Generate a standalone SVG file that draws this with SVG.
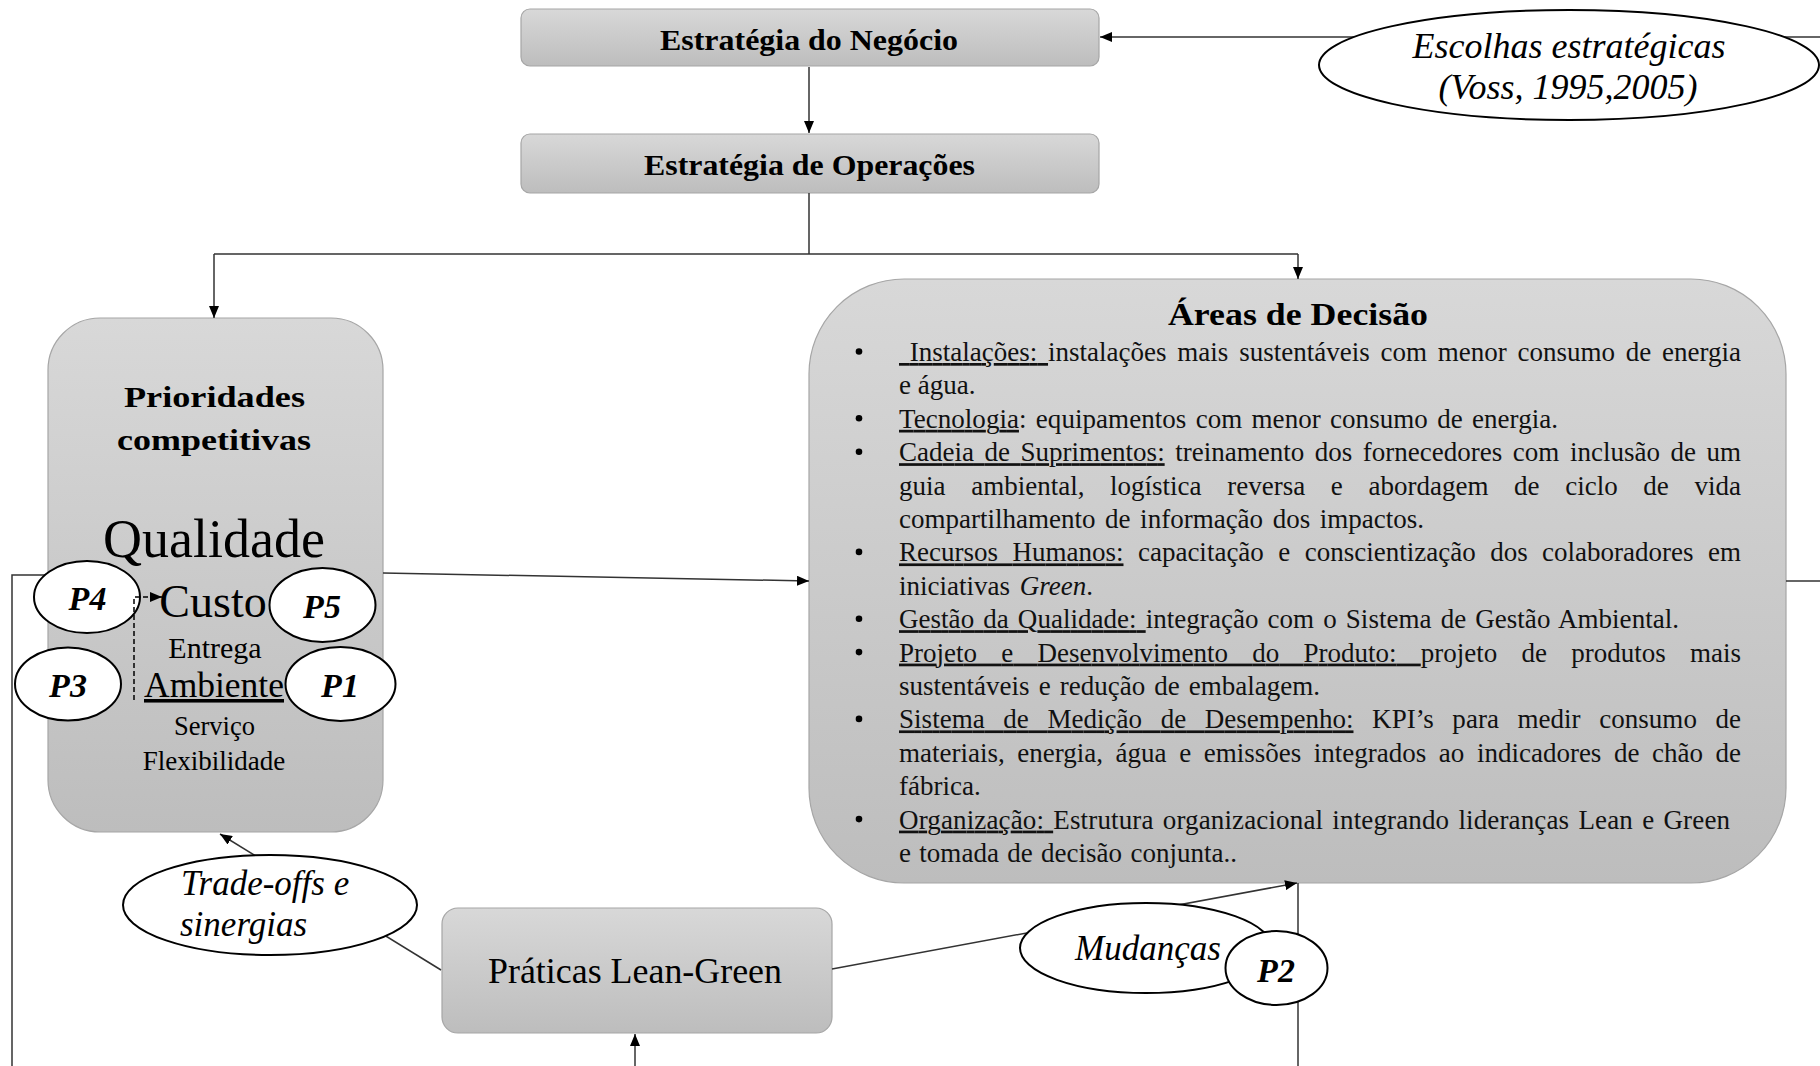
<svg xmlns="http://www.w3.org/2000/svg" width="1820" height="1066" viewBox="0 0 1820 1066">
  <defs>
    <linearGradient id="boxFill" x1="0" y1="0" x2="0" y2="1">
      <stop offset="0" stop-color="#d8d8d8"/>
      <stop offset="1" stop-color="#bdbdbd"/>
    </linearGradient>
    <marker id="arrow" viewBox="0 0 12 10" refX="12" refY="5" markerWidth="12" markerHeight="10" markerUnits="userSpaceOnUse" orient="auto">
      <path d="M0,0 L12,5 L0,10 Z" fill="#000"/>
    </marker>
    <style>
      .box { fill: url(#boxFill); stroke: #a6a6a6; stroke-width: 1.2; }
      .oval { fill: #fff; stroke: #000; stroke-width: 2; }
      .line { fill: none; stroke: #333; stroke-width: 1.5; }
      .dash { fill: none; stroke: #000; stroke-width: 1.5; stroke-dasharray: 5 3; }
      .serif { font-family: "Liberation Serif", "Times New Roman", serif; fill: #000; }
      .title { font-family: "Liberation Serif", "Times New Roman", serif; font-weight: bold; fill: #000; }
      .body { font-family: "Liberation Serif", "Times New Roman", serif; font-size: 27px; fill: #111; }
      .ital { font-family: "Liberation Serif", "Times New Roman", serif; font-style: italic; fill: #000; }
      .plabel { font-family: "Liberation Serif", "Times New Roman", serif; font-style: italic; font-weight: bold; font-size: 34px; text-anchor: middle; fill: #000; }
      .u { text-decoration: underline; }
      .bullet { fill: #000; }
    </style>
  </defs>

  <rect width="1820" height="1066" fill="#fff"/>

  <!-- strategy boxes -->
  <g id="estrategia-negocio">
    <rect class="box" x="521" y="9" width="578" height="57" rx="9"/>
    <text class="title" x="809" y="50" font-size="29" text-anchor="middle" textLength="298" lengthAdjust="spacingAndGlyphs">Estratégia do Negócio</text>
  </g>
  <g id="estrategia-operacoes">
    <rect class="box" x="521" y="134" width="578" height="59" rx="9"/>
    <text class="title" x="809.5" y="175" font-size="29" text-anchor="middle" textLength="331" lengthAdjust="spacingAndGlyphs">Estratégia de Operações</text>
  </g>

  <!-- competitive priorities -->
  <g id="prioridades">
    <rect class="box" x="48" y="318" width="335" height="514" rx="52"/>
    <text class="title" x="214.5" y="407" font-size="30" text-anchor="middle" textLength="181" lengthAdjust="spacingAndGlyphs">Prioridades</text>
    <text class="title" x="214" y="450" font-size="30" text-anchor="middle" textLength="194" lengthAdjust="spacingAndGlyphs">competitivas</text>
    <text class="serif" x="214" y="557" font-size="54" text-anchor="middle">Qualidade</text>
    <text class="serif" x="213" y="617" font-size="46" text-anchor="middle">Custo</text>
    <text class="serif" x="215" y="658" font-size="30" text-anchor="middle">Entrega</text>
    <text class="serif u" x="214" y="697" font-size="35.5" text-anchor="middle">Ambiente</text>
    <text class="serif" x="214.5" y="735" font-size="26.5" text-anchor="middle">Serviço</text>
    <text class="serif" x="214" y="770" font-size="27" text-anchor="middle">Flexibilidade</text>
  </g>

  <!-- decision areas -->
  <g id="areas-decisao">
    <rect class="box" x="809" y="279" width="977" height="604" rx="95"/>
    <text class="title" x="1298" y="325" font-size="31" text-anchor="middle" textLength="260" lengthAdjust="spacingAndGlyphs">Áreas de Decisão</text>
    <g class="bullet">
      <circle cx="859" cy="351.5" r="3.3"/>
      <circle cx="859" cy="418.3" r="3.3"/>
      <circle cx="859" cy="451.7" r="3.3"/>
      <circle cx="859" cy="551.9" r="3.3"/>
      <circle cx="859" cy="618.7" r="3.3"/>
      <circle cx="859" cy="652.1" r="3.3"/>
      <circle cx="859" cy="718.9" r="3.3"/>
      <circle cx="859" cy="819.1" r="3.3"/>
    </g>
    <text class="body" x="899" y="361" xml:space="preserve" word-spacing="4" textLength="842" lengthAdjust="spacing"><tspan class="u"> Instalações: </tspan>instalações mais sustentáveis com menor consumo de energia</text>
    <text class="body" x="899" y="394.4">e água.</text>
    <text class="body" x="899" y="427.8" xml:space="preserve" word-spacing="2.5" textLength="659" lengthAdjust="spacing"><tspan class="u">Tecnologia</tspan>: equipamentos com menor consumo de energia.</text>
    <text class="body" x="899" y="461.2" xml:space="preserve" word-spacing="3.8" textLength="842" lengthAdjust="spacing"><tspan class="u">Cadeia de Suprimentos:</tspan> treinamento dos fornecedores com inclusão de um</text>
    <text class="body" x="899" y="494.6" word-spacing="18.9" textLength="842" lengthAdjust="spacing">guia ambiental, logística reversa e abordagem de ciclo de vida</text>
    <text class="body" x="899" y="528" word-spacing="2.8" textLength="525" lengthAdjust="spacing">compartilhamento de informação dos impactos.</text>
    <text class="body" x="899" y="561.4" xml:space="preserve" word-spacing="7.7" textLength="842" lengthAdjust="spacing"><tspan class="u">Recursos Humanos:</tspan> capacitação e conscientização dos colaboradores em</text>
    <text class="body" x="899" y="594.8" xml:space="preserve" word-spacing="3">iniciativas <tspan font-style="italic">Green</tspan>.</text>
    <text class="body" x="899" y="628.2" xml:space="preserve" word-spacing="2.3" textLength="780" lengthAdjust="spacing"><tspan class="u">Gestão da Qualidade: </tspan>integração com o Sistema de Gestão Ambiental.</text>
    <text class="body" x="899" y="661.6" xml:space="preserve" word-spacing="17.5" textLength="842" lengthAdjust="spacing"><tspan class="u">Projeto e Desenvolvimento do Produto: </tspan>projeto de produtos mais</text>
    <text class="body" x="899" y="695" word-spacing="2.3" textLength="421" lengthAdjust="spacing">sustentáveis e redução de embalagem.</text>
    <text class="body" x="899" y="728.4" xml:space="preserve" word-spacing="11.8" textLength="842" lengthAdjust="spacing"><tspan class="u">Sistema de Medição de Desempenho:</tspan> KPI’s para medir consumo de</text>
    <text class="body" x="899" y="761.8" word-spacing="5.8" textLength="842" lengthAdjust="spacing">materiais, energia, água e emissões integrados ao indicadores de chão de</text>
    <text class="body" x="899" y="795.2">fábrica.</text>
    <text class="body" x="899" y="828.6" xml:space="preserve" word-spacing="2.3" textLength="831" lengthAdjust="spacing"><tspan class="u">Organização: </tspan>Estrutura organizacional integrando lideranças Lean e Green</text>
    <text class="body" x="899" y="862" word-spacing="1.6" textLength="338" lengthAdjust="spacing">e tomada de decisão conjunta..</text>
  </g>

  <!-- lean-green practices -->
  <g id="praticas">
    <rect class="box" x="442" y="908" width="390" height="125" rx="16"/>
    <text class="serif" x="635" y="983" font-size="35" text-anchor="middle" textLength="294" lengthAdjust="spacingAndGlyphs">Práticas Lean-Green</text>
  </g>

  <!-- connectors (ovals are drawn over them) -->
  <g id="connectors">
    <path class="line" d="M809,67 V133" marker-end="url(#arrow)"/>
    <path class="line" d="M1820,37 H1100" marker-end="url(#arrow)"/>
    <path class="line" d="M809,193 V254 M214,254 H1298"/>
    <path class="line" d="M214,254 V318" marker-end="url(#arrow)"/>
    <path class="line" d="M1298,254 V279" marker-end="url(#arrow)"/>
    <path class="line" d="M383,573 L809,581" marker-end="url(#arrow)"/>
    <path class="line" d="M1786,581 H1820"/>
    <path class="line" d="M12,1066 V575 H60"/>
    <path class="line" d="M441,970 L220,834" marker-end="url(#arrow)"/>
    <path class="line" d="M832,969 L1297,883" marker-end="url(#arrow)"/>
    <path class="line" d="M1298,883 V1066"/>
    <path class="line" d="M635,1066 V1034" marker-end="url(#arrow)"/>
  </g>

  <!-- labelled ovals -->
  <g id="escolhas">
    <ellipse class="oval" cx="1569" cy="65" rx="250" ry="55"/>
    <text class="ital" x="1569" y="58" font-size="36" text-anchor="middle">Escolhas estratégicas</text>
    <text class="ital" x="1568" y="99" font-size="36" text-anchor="middle">(Voss, 1995,2005)</text>
  </g>
  <g id="tradeoffs">
    <ellipse class="oval" cx="270" cy="905" rx="147" ry="50"/>
    <text class="ital" x="181" y="895" font-size="35">Trade-offs e</text>
    <text class="ital" x="180" y="936" font-size="35">sinergias</text>
  </g>
  <g id="mudancas">
    <ellipse class="oval" cx="1146" cy="948" rx="126" ry="45"/>
    <text class="ital" x="1148" y="960" font-size="35" text-anchor="middle">Mudanças</text>
  </g>
  <g id="p2">
    <ellipse class="oval" cx="1276.5" cy="968" rx="51" ry="37"/>
    <text class="plabel" x="1276" y="982">P2</text>
  </g>
  <g id="p4">
    <ellipse class="oval" cx="87" cy="597" rx="53" ry="36"/>
    <text class="plabel" x="87.5" y="610">P4</text>
  </g>
  <g id="p5">
    <ellipse class="oval" cx="322.5" cy="605" rx="53" ry="37"/>
    <text class="plabel" x="322" y="618">P5</text>
  </g>
  <g id="p3">
    <ellipse class="oval" cx="68" cy="684" rx="53" ry="36.5"/>
    <text class="plabel" x="68" y="697">P3</text>
  </g>
  <g id="p1">
    <ellipse class="oval" cx="340.5" cy="684" rx="55" ry="37"/>
    <text class="plabel" x="340" y="697">P1</text>
  </g>

  <!-- dashed link drawn over the P4 oval -->
  <g id="connectors-dashed">
    <path class="dash" d="M134,700 V597 H162" marker-end="url(#arrow)"/>
  </g>
</svg>
